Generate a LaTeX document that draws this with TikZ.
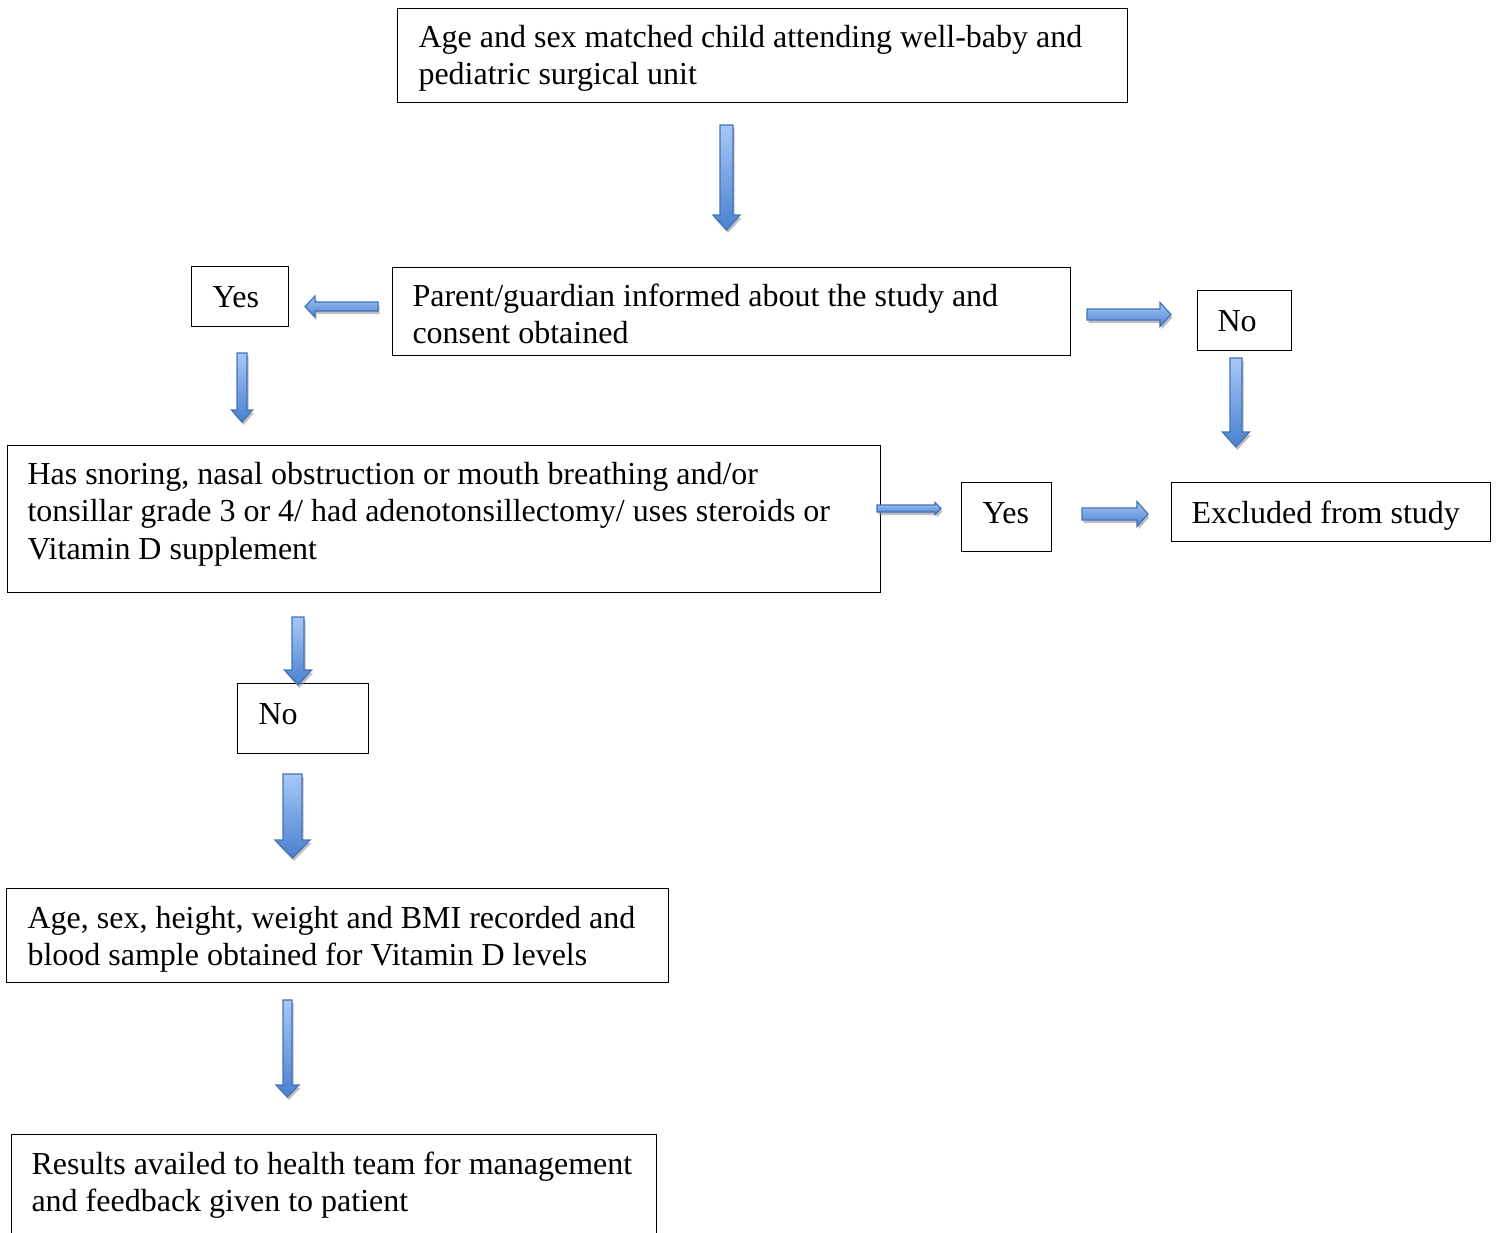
\documentclass[tikz,border=0pt]{standalone}
\usepackage{fontspec}
\setmainfont{Liberation Serif}
\definecolor{arrowlight}{HTML}{A7C8F7}
\definecolor{arrowdark}{HTML}{4A80CF}
\definecolor{arrowline}{HTML}{4472B8}
\tikzset{
  box/.style={draw=black, line width=0.5pt, anchor=north west, inner sep=0pt},
  txt/.style={anchor=base west, inner sep=0pt, font=\fontsize{12}{13.8}\selectfont},
  arrowfill/.style={draw=arrowline, line width=0.45pt, top color=arrowlight, bottom color=arrowdark},
  arrowshadow/.style={fill=black!45, draw=none, opacity=0.55},
}
\newcommand\boxnode[5]{%
  \node[box, minimum width={(#4-#2)*0.375pt}, minimum height={(#5-#3)*0.375pt}] (#1) at (#2,#3) {};}
% vertical (downward) block arrow: cx, ytop, ybase, ytip, shaft width, head width
\newcommand\blkdown[6]{%
  \fill[arrowshadow, shift={(1.5,3)}] ({#1-#5/2},#2) -- ({#1+#5/2},#2) -- ({#1+#5/2},#3) -- ({#1+#6/2},#3) -- (#1,#4) -- ({#1-#6/2},#3) -- ({#1-#5/2},#3) -- cycle;
  \draw[arrowfill] ({#1-#5/2},#2) -- ({#1+#5/2},#2) -- ({#1+#5/2},#3) -- ({#1+#6/2},#3) -- (#1,#4) -- ({#1-#6/2},#3) -- ({#1-#5/2},#3) -- cycle;}
% horizontal block arrow: cy, xtail, xbase, xtip, shaft width, head width
\newcommand\blkside[6]{%
  \fill[arrowshadow, shift={(1.5,3)}] (#2,{#1-#5/2}) -- (#3,{#1-#5/2}) -- (#3,{#1-#6/2}) -- (#4,#1) -- (#3,{#1+#6/2}) -- (#3,{#1+#5/2}) -- (#2,{#1+#5/2}) -- cycle;
  \draw[arrowfill] (#2,{#1-#5/2}) -- (#3,{#1-#5/2}) -- (#3,{#1-#6/2}) -- (#4,#1) -- (#3,{#1+#6/2}) -- (#3,{#1+#5/2}) -- (#2,{#1+#5/2}) -- cycle;}
\begin{document}
\begin{tikzpicture}[x=0.375pt, y=-0.375pt]
\useasboundingbox (0,0) rectangle (1502,1233);
\clip (0,0) rectangle (1502,1233);
\fill[white] (0,0) rectangle (1502,1233);

% boxes
\boxnode{top}{397}{8}{1127}{102}
\boxnode{consent}{392}{267}{1070}{355}
\boxnode{yesA}{191}{266}{288}{326}
\boxnode{noA}{1197}{290}{1291}{350}
\boxnode{snore}{7}{445}{880}{592}
\boxnode{yesB}{961}{482}{1051}{551}
\boxnode{excl}{1171}{482}{1490}{541}
\boxnode{noB}{237}{683}{368}{753}
\boxnode{record}{6}{888}{668}{982}
\boxnode{result}{11}{1134}{656}{1260}

% texts
\node[txt] (t1a) at (418,47) {Age and sex matched child attending well-baby and};
\node[txt] (t1b) at (418,84) {pediatric surgical unit};
\node[txt] (t2a) at (412,306) {Parent/guardian informed about the study and};
\node[txt] (t2b) at (412,343) {consent obtained};
\node[txt] (t3)  at (212,307) {Yes};
\node[txt] (t4)  at (1217,331) {No};
\node[txt] (t5a) at (27,484) {Has snoring, nasal obstruction or mouth breathing and/or};
\node[txt] (t5b) at (27,521) {tonsillar grade 3 or 4/ had adenotonsillectomy/ uses steroids or};
\node[txt] (t5c) at (27,559) {Vitamin D supplement};
\node[txt] (t6)  at (982,523) {Yes};
\node[txt] (t7)  at (1191,523) {Excluded from study};
\node[txt] (t8)  at (258,724) {No};
\node[txt] (t9a) at (27,928) {Age, sex, height, weight and BMI recorded and};
\node[txt] (t9b) at (27,965) {blood sample obtained for Vitamin D levels};
\node[txt] (t10a) at (31,1174) {Results availed to health team for management};
\node[txt] (t10b) at (31,1211) {and feedback given to patient};

% block arrows
\blkdown{726.5}{125}{215}{230}{13}{27}
\blkside{306.5}{378}{315}{305}{9}{21}
\blkside{314.5}{1087}{1160}{1171}{11}{24}
\blkdown{242}{353}{410}{422}{10}{21}
\blkdown{1236}{358}{432}{447}{12}{27}
\blkside{508.5}{877}{935}{941}{7}{12}
\blkside{514}{1082}{1137}{1148}{12}{25}
\blkdown{298}{617}{670}{685}{12}{27}
\blkdown{292.5}{774}{840}{858}{19}{35}
\blkdown{287.5}{1000}{1085}{1097}{9}{23}
\end{tikzpicture}
\end{document}
